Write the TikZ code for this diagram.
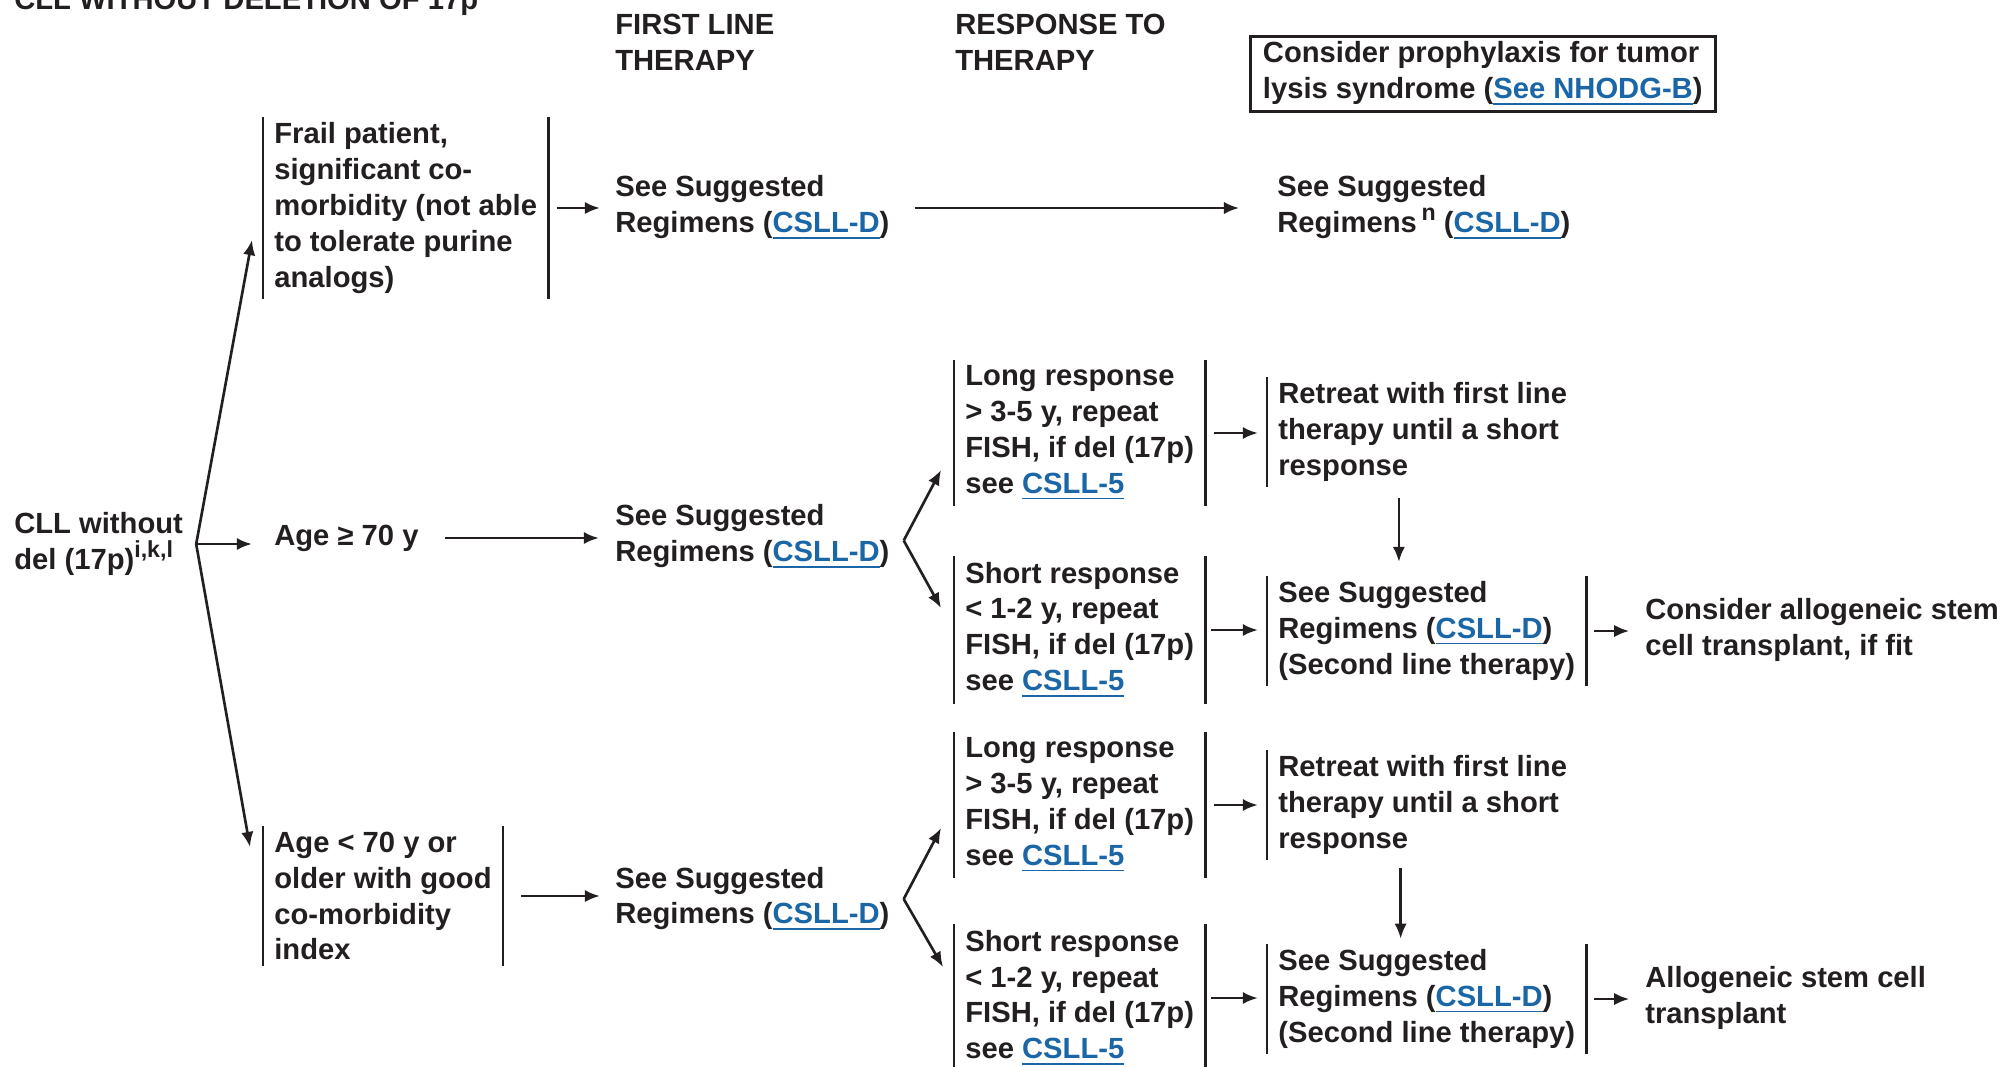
\documentclass[tikz,border=0pt]{standalone}
\usepackage{fontspec}
\setmainfont{Liberation Sans}
\usepackage{xcolor}
\usetikzlibrary{positioning, calc, arrows.meta}

\definecolor{inkblack}{HTML}{231F20}
\definecolor{linkblue}{HTML}{1A66A6}
\newcommand{\lnk}[1]{\textcolor{linkblue}{\underline{#1}}}
\newcommand{\sups}[1]{\raisebox{0.42em}{\fontsize{6.6}{7}\selectfont #1}}

\begin{document}
\begin{tikzpicture}[x=0.01cm, y=-0.01cm, line width=0.75pt, >={Latex[length=4.3pt,width=3.5pt]},
    font=\fontsize{8.3}{10.2}\selectfont\bfseries, color=inkblack]

    \tikzset{
        txt/.style={align=left, inner sep=0pt, anchor=west},
        barbox/.style={align=left, inner xsep=2.85pt, inner ysep=1.2pt, anchor=west},
        bar/.style={line width=0.8pt}
    }
    \useasboundingbox (0,0) rectangle (2003,1066);
    \clip (0,0) rectangle (2003,1066);

    % ==========================================
    % Headings
    % ==========================================
    \node[anchor=base west, inner sep=0pt] (hdcll) at (13,9) {CLL WITHOUT DELETION OF 17p};
    \node[txt] (hdfirst) at (614,42) {FIRST LINE\\THERAPY};
    \node[txt] (hdresp) at (954,42) {RESPONSE TO\\THERAPY};
    \node[draw, align=left, inner xsep=3.6pt, inner ysep=1.6pt, anchor=west] (tls) at (1249,74)
        {Consider prophylaxis for tumor\\lysis syndrome (\lnk{See NHODG-B})};

    % ==========================================
    % Diagnosis and patient groups
    % ==========================================
    \node[txt] (cll) at (13,544) {CLL without\\del (17p)\sups{i,k,l}};
    \coordinate (split) at ([xshift=3.4pt]cll.east);

    \node[barbox] (frail) at (263,208) {Frail patient,\\significant co-\\morbidity (not able\\to tolerate purine\\analogs)};
    \node[txt] (age70) at (273,538) {Age ≥ 70 y};
    \node[barbox] (agelo) at (263,896) {Age < 70 y or\\older with good\\co-morbidity\\index};

    \draw[->] (split) -- ($(frail.west)+(-11,32)$);
    \draw[->] (split) -- ([xshift=-6pt]split -| age70.west);
    \draw[->] (split) -- ($(agelo.west)+(-13,-49)$);

    % ==========================================
    % First line therapy
    % ==========================================
    \node[txt] (ss1) at (614,208) {See Suggested\\Regimens (\lnk{CSLL-D})};
    \node[txt] (ss2) at (614,537) {See Suggested\\Regimens (\lnk{CSLL-D})};
    \node[txt] (ss3) at (614,899) {See Suggested\\Regimens (\lnk{CSLL-D})};
    \node[txt] (ss1n) at (1276,208) {See Suggested\\Regimens\,\sups{n} (\lnk{CSLL-D})};

    \draw[->, shorten <=2.4pt, shorten >=4pt] (frail.east) -- (frail.east -| ss1.west);
    \draw[->, shorten <=6.8pt, shorten >=10.5pt] (ss1.east) -- (ss1.east -| ss1n.west);
    \draw[->, shorten <=7.2pt, shorten >=4.3pt] (age70.east) -- (age70.east -| ss2.west);
    \draw[->, shorten <=5.2pt, shorten >=4pt] (agelo.east) -- (agelo.east -| ss3.west);

    % ==========================================
    % Response to therapy: age >= 70
    % ==========================================
    \node[barbox] (longa) at (954,433) {Long response\\> 3-5 y, repeat\\FISH, if del (17p)\\see \lnk{CSLL-5}};
    \node[barbox] (shorta) at (954,630) {Short response\\< 1-2 y, repeat\\FISH, if del (17p)\\see \lnk{CSLL-5}};
    \node[barbox] (retra) at (1267,432) {Retreat with first line\\therapy until a short\\response};
    \node[barbox] (seca) at (1267,631) {See Suggested\\Regimens (\lnk{CSLL-D})\\(Second line therapy)};
    \node[txt] (alloa) at (1644,630) {Consider allogeneic stem\\cell transplant, if fit};

    \coordinate (forka) at ([xshift=3.7pt,yshift=-1pt]ss2.east);
    \draw[->] (forka) -- ($(longa.west)+(-13,37)$);
    \draw[->] (forka) -- ($(shorta.west)+(-13,-22)$);
    \draw[->, shorten <=2.4pt, shorten >=2.6pt] (longa.east) -- (longa.east -| retra.west);
    \draw[->, shorten <=1.6pt, shorten >=2.6pt] (shorta.east) -- (shorta.east -| seca.west);
    \draw[->, shorten <=2.2pt, shorten >=4.2pt] (seca.east) -- (seca.east -| alloa.west);
    \draw[->] ([xshift=37.5pt,yshift=-3pt]retra.south west) -- ([xshift=37.5pt,yshift=4pt]seca.north west);

    % ==========================================
    % Response to therapy: age < 70
    % ==========================================
    \node[barbox] (longb) at (954,805) {Long response\\> 3-5 y, repeat\\FISH, if del (17p)\\see \lnk{CSLL-5}};
    \node[barbox] (shortb) at (954,998) {Short response\\< 1-2 y, repeat\\FISH, if del (17p)\\see \lnk{CSLL-5}};
    \node[barbox] (retrb) at (1267,805) {Retreat with first line\\therapy until a short\\response};
    \node[barbox] (secb) at (1267,999) {See Suggested\\Regimens (\lnk{CSLL-D})\\(Second line therapy)};
    \node[txt] (allob) at (1644,998) {Allogeneic stem cell\\transplant};

    \coordinate (forkb) at ([xshift=3.7pt]ss3.east);
    \draw[->] (forkb) -- ($(longb.west)+(-13,23)$);
    \draw[->] (forkb) -- ($(shortb.west)+(-11,-31)$);
    \draw[->, shorten <=2.4pt, shorten >=2.6pt] (longb.east) -- (longb.east -| retrb.west);
    \draw[->, shorten <=1.6pt, shorten >=2.6pt] (shortb.east) -- (shortb.east -| secb.west);
    \draw[->, shorten <=2.2pt, shorten >=4.2pt] (secb.east) -- (secb.east -| allob.west);
    \draw[->] ([xshift=38pt,yshift=-2.3pt]retrb.south west) -- ([xshift=38pt,yshift=1.5pt]secb.north west);

    % Side bars
    \foreach \n in {frail,agelo,longa,shorta,seca,longb,shortb,secb}
        \draw[bar] (\n.north west) -- (\n.south west) (\n.north east) -- (\n.south east);
    \foreach \n in {retra,retrb}
        \draw[bar] (\n.north west) -- (\n.south west);

\end{tikzpicture}
\end{document}
